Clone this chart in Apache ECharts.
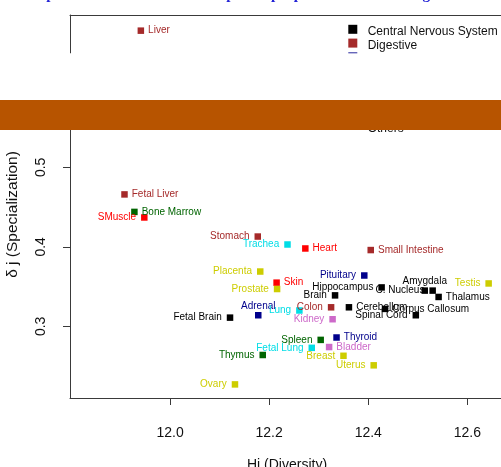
<!DOCTYPE html>
<html>
<head>
<meta charset="utf-8">
<script src="https://cdn.jsdelivr.net/npm/echarts@6/dist/echarts.min.js"></script>
<style>
  html, body { margin: 0; padding: 0; background: #ffffff; }
  #chart { width: 501px; height: 467px; }
</style>
</head>
<body>
<div id="chart"></div>
<script>
// Organ-level transcriptome estimates: diversity (Hj) vs specialization (delta j)
const organs = [
  'Liver', 'Fetal Liver', 'Bone Marrow', 'SMuscle', 'Stomach', 'Trachea', 'Heart',
  'Small Intestine', 'Placenta', 'Pituitary', 'Testis', 'Skin', 'Hippocampus',
  'Prostate', 'C. Nucleus', 'Amygdala', 'Brain', 'Thalamus', 'Cerebellum', 'Colon',
  'Corpus Callosum', 'Lung', 'Adrenal', 'Spinal Cord', 'Fetal Brain', 'Kidney',
  'Thyroid', 'Spleen', 'Bladder', 'Fetal Lung', 'Thymus', 'Breast', 'Uterus', 'Ovary'
];
const diversity = [
  11.941, 11.908, 11.928, 11.948, 12.177, 12.237, 12.273,
  12.405, 12.182, 12.392, 12.643, 12.215, 12.427,
  12.216, 12.530, 12.514, 12.333, 12.542, 12.361, 12.325,
  12.434, 12.261, 12.178, 12.496, 12.121, 12.328,
  12.336, 12.304, 12.321, 12.286, 12.187, 12.350, 12.411, 12.131
];
const specialization = [
  0.672, 0.466, 0.444, 0.437, 0.413, 0.403, 0.398,
  0.396, 0.369, 0.364, 0.354, 0.355, 0.349,
  0.347, 0.345, 0.345, 0.339, 0.337, 0.324, 0.324,
  0.322, 0.320, 0.314, 0.314, 0.311, 0.309,
  0.286, 0.283, 0.274, 0.273, 0.264, 0.263, 0.251, 0.227
];
const organGroup = [
  'Digestive', 'Digestive', 'Immune', 'Muscle', 'Digestive', 'Respiratory', 'Muscle',
  'Digestive', 'Reproductive', 'Endocrine', 'Reproductive', 'Muscle', 'Central Nervous System',
  'Reproductive', 'Central Nervous System', 'Central Nervous System', 'Central Nervous System',
  'Central Nervous System', 'Central Nervous System', 'Digestive',
  'Central Nervous System', 'Respiratory', 'Endocrine', 'Central Nervous System',
  'Central Nervous System', 'Others',
  'Endocrine', 'Immune', 'Others', 'Respiratory', 'Immune', 'Reproductive', 'Reproductive', 'Reproductive'
];
const groups = [
  'Central Nervous System', 'Digestive', 'Endocrine', 'Immune',
  'Muscle', 'Reproductive', 'Respiratory', 'Others'
];
const groupColors = [
  '#000000', '#A52A2A', '#00008B', '#006400',
  '#FF0000', '#CDCD00', '#00DDE6', '#CD69C9'
];
const xTicks = [12.0, 12.2, 12.4, 12.6];
const yTicks = [0.3, 0.4, 0.5];

// Which side of its marker each organ name is written on
const labelSide = {
  'Liver': 'right', 'Fetal Liver': 'right', 'Bone Marrow': 'right', 'Heart': 'right',
  'Small Intestine': 'right', 'Skin': 'right', 'Thalamus': 'right', 'Cerebellum': 'right',
  'Corpus Callosum': 'right', 'Thyroid': 'right', 'Bladder': 'right',
  'Amygdala': 'top', 'Adrenal': 'top'
};

const FONT = 'Liberation Sans, Arial, sans-serif';
const FRAME = '#3a3a3a';

const series = groups.map(function (g, gi) {
  const pts = [];
  organs.forEach(function (name, i) {
    if (organGroup[i] !== g) return;
    const side = labelSide[name] || 'left';
    pts.push({
      name: name,
      value: [diversity[i], specialization[i]],
      label: { position: side, distance: side === 'top' ? 1 : (side === 'left' ? 5 : 4) }
    });
  });
  return {
    name: g,
    type: 'scatter',
    xAxisIndex: 0,
    symbol: 'rect',
    symbolSize: 6.5,
    itemStyle: { color: groupColors[gi], opacity: 1 },
    emphasis: { disabled: true },
    label: {
      show: true,
      formatter: '{b}',
      color: groupColors[gi],
      fontFamily: FONT,
      fontSize: 10
    },
    data: pts
  };
});

// Legend: one column of swatches and, slightly lower, one column of names
const legendCommon = {
  orient: 'vertical',
  padding: 0,
  itemGap: -0.2,
  itemWidth: 9, itemHeight: 9,
  icon: 'rect',
  selectedMode: false,
  textStyle: { fontFamily: FONT, fontSize: 12, color: '#111', lineHeight: 14 }
};
const swatchLegend = Object.assign({}, legendCommon, {
  left: 348.3, top: 22.3,
  data: groups.map(function (g, gi) {
    return gi === groups.length - 1 ? { name: g, itemStyle: { color: 'rgba(0,0,0,0)' } } : { name: g };
  }),
  formatter: function () { return ' '; }
});
const nameLegend = Object.assign({}, legendCommon, {
  left: 353.7, top: 24.6,
  data: groups.map(function (g) { return { name: g, itemStyle: { color: 'rgba(0,0,0,0)' } }; })
});

const chart = echarts.init(document.getElementById('chart'), null, { renderer: 'canvas' });
chart.setOption({
  animation: false,
  backgroundColor: '#ffffff',
  grid: { left: 70, right: -3, top: 15, bottom: 69, show: false, outerBoundsMode: 'none', containLabel: false },
  legend: [swatchLegend, nameLegend],
  xAxis: [{
    type: 'value',
    position: 'bottom',
    min: 11.798, max: 12.674,
    name: 'Hj (Diversity)',
    nameLocation: 'middle',
    nameGap: 60,
    nameTextStyle: { fontFamily: FONT, fontSize: 14, color: '#111' },
    axisLine: { show: true, onZero: false, lineStyle: { color: FRAME } },
    splitLine: { show: false },
    axisTick: { show: true, length: 7, lineStyle: { color: FRAME }, customValues: xTicks },
    axisLabel: {
      customValues: xTicks, margin: 28,
      fontFamily: FONT, fontSize: 14, color: '#111',
      formatter: function (v) { return v.toFixed(1); }
    }
  }, {
    // upper edge of the plot frame
    type: 'value',
    position: 'top',
    min: 11.798, max: 12.674,
    axisLine: { show: true, onZero: false, lineStyle: { color: FRAME } },
    axisTick: { show: false },
    axisLabel: { show: false },
    splitLine: { show: false }
  }],
  yAxis: {
    type: 'value',
    min: 0.2099, max: 0.6917,
    name: 'δ j (Specialization)',
    nameLocation: 'middle',
    nameGap: 49,
    nameTextStyle: { fontFamily: FONT, fontSize: 15.5, color: '#111', padding: [0, 16, 0, 0] },
    axisLine: { show: true, onZero: false, lineStyle: { color: FRAME } },
    splitLine: { show: false },
    axisTick: { show: true, length: 7, lineStyle: { color: FRAME }, customValues: yTicks },
    axisLabel: {
      customValues: yTicks, margin: 22, rotate: 90,
      fontFamily: FONT, fontSize: 14, color: '#111',
      formatter: function (v) { return v.toFixed(1); }
    }
  },
  graphic: [
    {
      type: 'text', left: 8, top: -12, z: 100,
      style: {
        text: 'Example of estimation of transcriptome properties of human organs',
        font: 'bold 15.3px "Liberation Serif", "Times New Roman", serif',
        fill: '#2323D6'
      }
    },
    { type: 'rect', z: 100, shape: { x: 0, y: 53.2, width: 501, height: 46.8 }, style: { fill: '#ffffff' } },
    { type: 'rect', z: 100, shape: { x: 0, y: 100, width: 501, height: 30 }, style: { fill: '#B75400' } }
  ],
  series: series
});
</script>
</body>
</html>
